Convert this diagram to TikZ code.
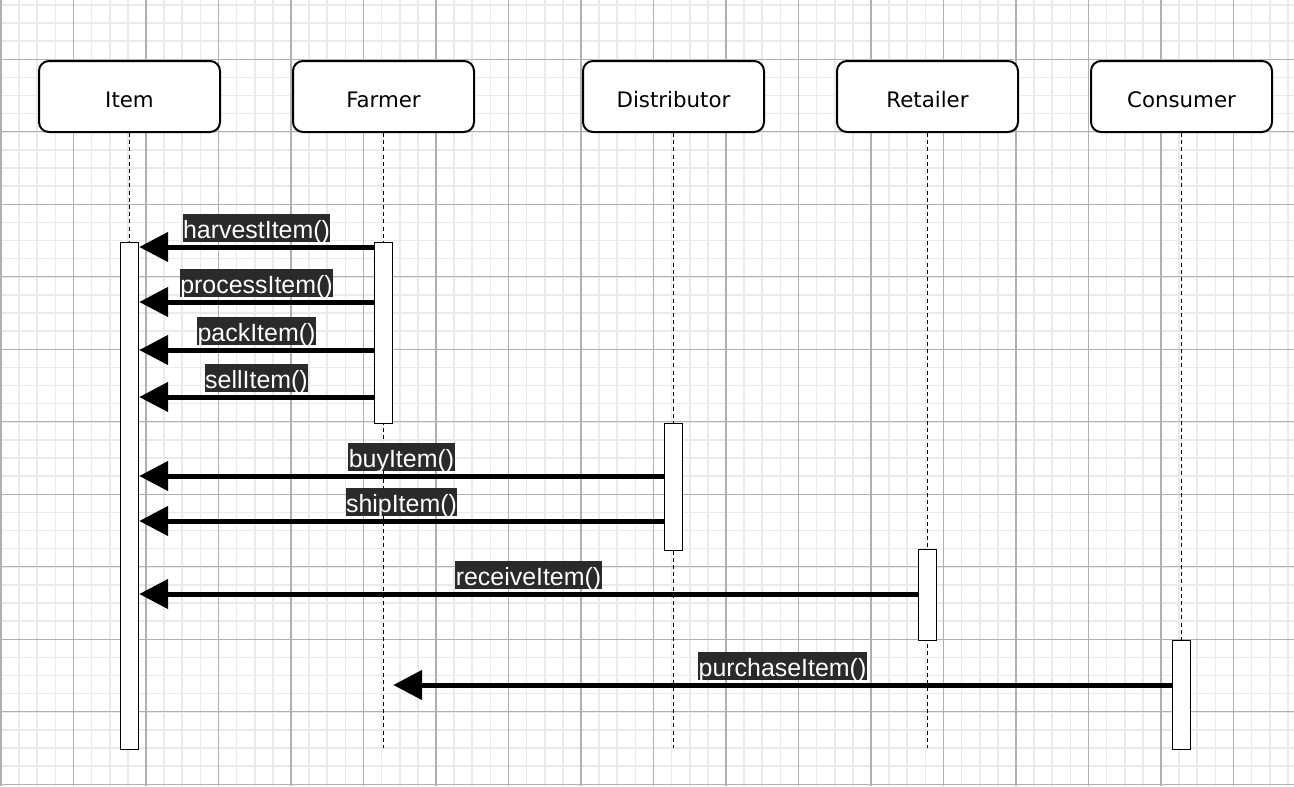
\documentclass[tikz,border=0pt]{standalone}
\usepackage{fontspec}
\setmainfont{DejaVu Sans}
\newfontfamily\lblfont{Liberation Sans}
\usetikzlibrary{arrows.meta}
\definecolor{minorgrid}{HTML}{EAEAEA}
\definecolor{majorgrid}{HTML}{B0B0B0}
\definecolor{lblbg}{HTML}{2A2A2A}
\tikzset{
  minorline/.style={draw=minorgrid, line width=1.2pt},
  majorline/.style={draw=majorgrid, line width=0.8pt},
  actor/.style={draw=black, line width=1.5pt, rounded corners=7.5pt, fill=white,
    minimum width=135.75pt, minimum height=53.25pt, inner sep=0pt,
    text height=15.8pt, text depth=0pt, font=\fontsize{16}{19}\selectfont},
  lifeline/.style={draw=black, line width=1.4pt, dash pattern=on 3pt off 2.4pt},
  actbar/.style={draw=black, line width=1.1pt, fill=white, minimum width=13.5pt, inner sep=0pt, anchor=north},
  msg/.style={draw=black, line width=3.75pt, -{Triangle[length=21.75pt,width=21.75pt]}},
  lbl/.style={fill=lblbg, text=white, inner xsep=0.4pt, inner ysep=0pt,
    text height=18.4pt, text depth=2pt, anchor=south, yshift=2.25pt,
    font=\lblfont\fontsize{18.7}{20}\selectfont}
}
\begin{document}
\begin{tikzpicture}[x=0.75pt,y=-0.75pt]
\useasboundingbox (0,0) rectangle (1294,786);
\fill[white] (0,0) rectangle (1294,786);
% grid
\foreach \i in {0,...,71} {
  \pgfmathsetmacro\xx{1+18.125*\i}
  \draw[minorline] (\xx,0) -- (\xx,786);
}
\foreach \j in {1,...,44} {
  \pgfmathsetmacro\yy{-13.2+18.125*\j}
  \draw[minorline] (0,\yy) -- (1294,\yy);
}
\foreach \i in {0,4,...,68} {
  \pgfmathsetmacro\xx{1+18.125*\i}
  \draw[majorline] (\xx,0) -- (\xx,786);
}
\foreach \j in {4,8,...,44} {
  \pgfmathsetmacro\yy{-13.2+18.125*\j}
  \draw[majorline] (0,\yy) -- (1294,\yy);
}
% actors
\node[actor] (item) at (129.5,96.5) {Item};
\node[actor] (farmer) at (383.5,96.5) {Farmer};
\node[actor] (dist) at (673.5,96.5) {Distributor};
\node[actor] (ret) at (927.5,96.5) {Retailer};
\node[actor] (cons) at (1181.5,96.5) {Consumer};
% lifeline ends
\coordinate (itemEnd) at (129.5,748);
\coordinate (farmerEnd) at (383.5,748);
\coordinate (distEnd) at (673.5,748);
\coordinate (retEnd) at (927.5,748);
\coordinate (consEnd) at (1181.5,748);
\draw[lifeline] (item.south) -- (itemEnd);
\draw[lifeline] (farmer.south) -- (farmerEnd);
\draw[lifeline] (dist.south) -- (distEnd);
\draw[lifeline] (ret.south) -- (retEnd);
\draw[lifeline] (cons.south) -- (consEnd);
% activation bars
\node[actbar, minimum height=380.25pt] (ib) at (129.5,242) {};
\node[actbar, minimum height=135.75pt] (fb) at (383.5,242) {};
\node[actbar, minimum height=95.25pt] (db) at (673.5,423) {};
\node[actbar, minimum height=68.25pt] (rb) at (927.5,549) {};
\node[actbar, minimum height=81.75pt] (cb) at (1181.5,640) {};
% messages
\draw[msg] (fb.west |- 0,247) -- node[lbl] {harvestItem()} (ib.east |- 0,247);
\draw[msg] (fb.west |- 0,302) -- node[lbl] {processItem()} (ib.east |- 0,302);
\draw[msg] (fb.west |- 0,350) -- node[lbl] {packItem()} (ib.east |- 0,350);
\draw[msg] (fb.west |- 0,397) -- node[lbl] {sellItem()} (ib.east |- 0,397);
\draw[msg] (db.west |- 0,476) -- node[lbl] {buyItem()} (ib.east |- 0,476);
\draw[msg] (db.west |- 0,521) -- node[lbl] {shipItem()} (ib.east |- 0,521);
\draw[msg] (rb.west |- 0,594) -- node[lbl] {receiveItem()} (ib.east |- 0,594);
\draw[msg] (cb.west |- 0,685) -- node[lbl] {purchaseItem()} (fb.east |- 0,685);
\end{tikzpicture}
\end{document}
